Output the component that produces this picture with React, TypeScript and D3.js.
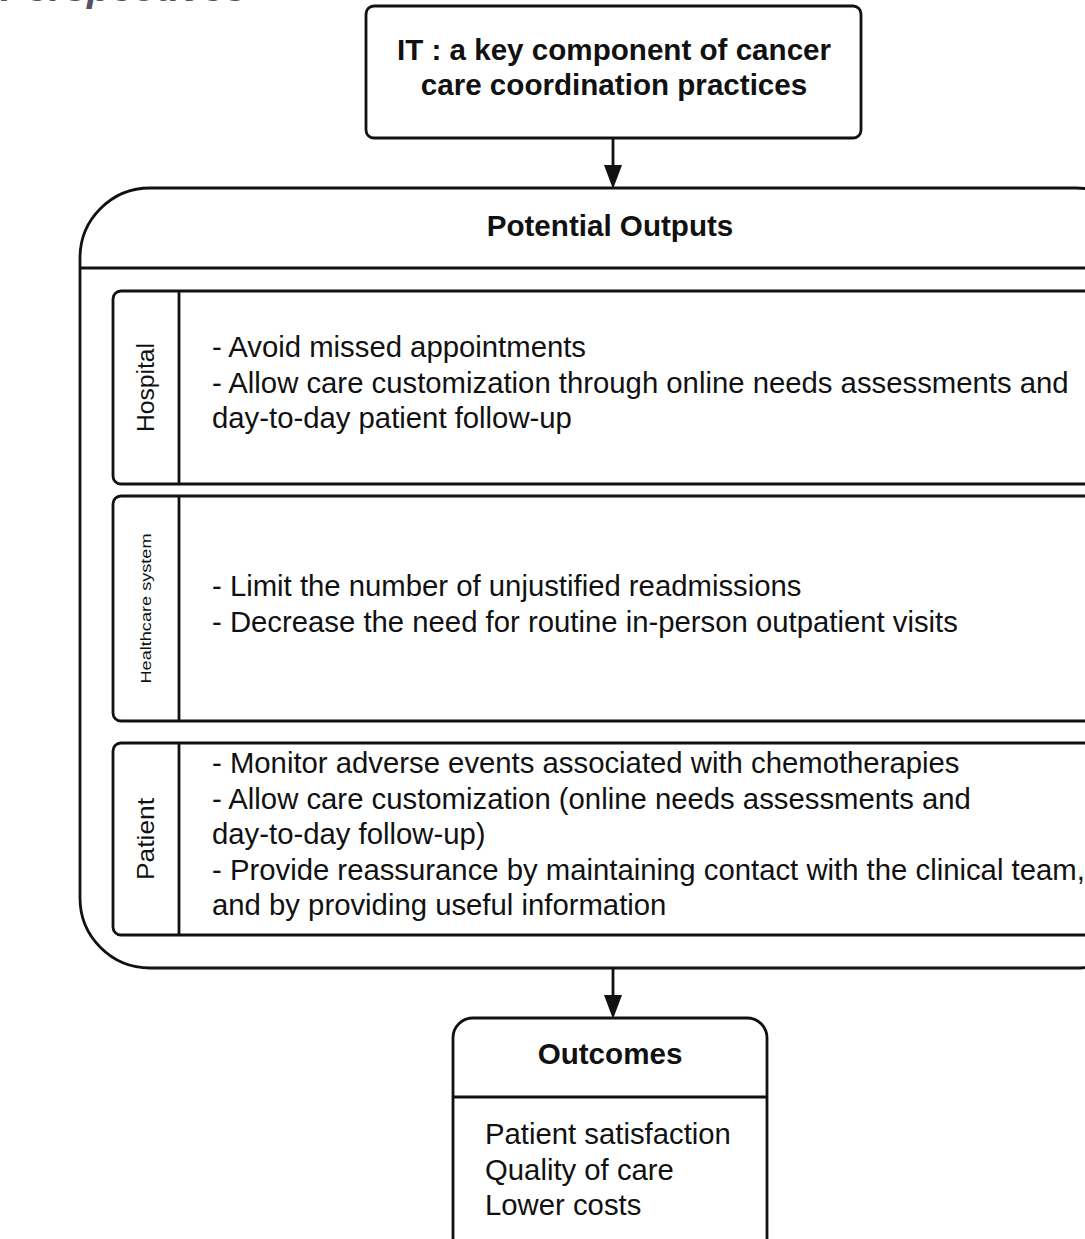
import React, { useEffect, useRef } from 'react';
import * as d3 from 'd3';

// text content of the diagram
const topTitle = ['IT : a key component of cancer', 'care coordination practices'];
const containerTitle = 'Potential Outputs';
const rowLabels = ['Hospital', 'Healthcare system', 'Patient'];
const hospitalItems = [
  '- Avoid missed appointments',
  '- Allow care customization through online needs assessments and',
  'day-to-day patient follow-up',
];
const systemItems = [
  '- Limit the number of unjustified readmissions',
  '- Decrease the need for routine in-person outpatient visits',
];
const patientItems = [
  '- Monitor adverse events associated with chemotherapies',
  '- Allow care customization (online needs assessments and',
  'day-to-day follow-up)',
  '- Provide reassurance by maintaining contact with the clinical team,',
  'and by providing useful information',
];
const outcomesTitle = 'Outcomes';
const outcomesItems = ['Patient satisfaction', 'Quality of care', 'Lower costs'];
const headerFragment = 'Perspectives';

const W = 1085;
const H = 1239;
const FONT = 'Liberation Sans, Arial, sans-serif';

const Diagram = () => {
  const ref = useRef<SVGSVGElement | null>(null);

  useEffect(() => {
    if (!ref.current) return;
    const svg = d3.select(ref.current);
    svg.selectAll('*').remove();

    const stroke = '#111';
    const sw = 2.8;
    const cx = 613;
    const bodySize = 29.3;
    const boldSize = 29.6;

    // heading cropped at the very top of the page
    svg.append('text')
      .attr('x', 247).attr('y', 1)
      .attr('text-anchor', 'end')
      .attr('font-family', FONT)
      .attr('font-style', 'italic')
      .attr('font-weight', 'bold')
      .attr('font-size', 40)
      .attr('fill', '#56506a')
      .text(headerFragment);

    const arrow = (y0: number, y1: number) => {
      svg.append('line')
        .attr('x1', cx).attr('x2', cx)
        .attr('y1', y0).attr('y2', y1 - 20)
        .attr('stroke', stroke).attr('stroke-width', sw);
      svg.append('path')
        .attr('d', d3.line()([[cx - 9, y1 - 24], [cx + 9, y1 - 24], [cx, y1]]) + 'Z')
        .attr('fill', stroke);
    };

    // top box
    svg.append('rect')
      .attr('x', 366).attr('y', 6).attr('width', 495).attr('height', 132)
      .attr('rx', 8)
      .attr('fill', '#fff').attr('stroke', stroke).attr('stroke-width', sw);
    svg.append('g').selectAll('text').data(topTitle).join('text')
      .attr('x', 614).attr('y', (_, i) => 50 + i * 35)
      .attr('dy', '0.35em')
      .attr('text-anchor', 'middle')
      .attr('font-family', FONT).attr('font-weight', 'bold').attr('font-size', boldSize)
      .attr('fill', stroke)
      .text(d => d);

    arrow(138, 189);

    // big container
    const cLeft = 80, cTop = 188, cBottom = 968;
    svg.append('rect')
      .attr('x', cLeft).attr('y', cTop)
      .attr('width', (cx - cLeft) * 2).attr('height', cBottom - cTop)
      .attr('rx', 70)
      .attr('fill', '#fff').attr('stroke', stroke).attr('stroke-width', sw);
    svg.append('line')
      .attr('x1', cLeft).attr('x2', (cx - cLeft) * 2 + cLeft)
      .attr('y1', 268).attr('y2', 268)
      .attr('stroke', stroke).attr('stroke-width', sw);
    svg.append('text')
      .attr('x', 610).attr('y', 226).attr('dy', '0.35em')
      .attr('text-anchor', 'middle')
      .attr('font-family', FONT).attr('font-weight', 'bold').attr('font-size', boldSize)
      .attr('fill', stroke)
      .text(containerTitle);

    // rows
    const rowBounds = [[291, 484], [496, 721], [743, 935]];
    const rowTexts = [hospitalItems, systemItems, patientItems];
    const labelSizes = [23.5, 14, 24];
    const labelLengths = [89, 150, 82];
    const rLeft = 113, divX = 179, textX = 212, lineH = 35.5;

    rowLabels.forEach((label, i) => {
      const [y0, y1] = rowBounds[i];
      const g = svg.append('g');
      g.append('rect')
        .attr('x', rLeft).attr('y', y0)
        .attr('width', (cx - rLeft) * 2).attr('height', y1 - y0)
        .attr('rx', 8)
        .attr('fill', '#fff').attr('stroke', stroke).attr('stroke-width', sw);
      g.append('line')
        .attr('x1', divX).attr('x2', divX).attr('y1', y0).attr('y2', y1)
        .attr('stroke', stroke).attr('stroke-width', sw);
      const my = (y0 + y1) / 2;
      g.append('text')
        .attr('transform', `translate(${(rLeft + divX) / 2},${my}) rotate(-90)`)
        .attr('dy', '0.35em')
        .attr('text-anchor', 'middle')
        .attr('font-family', FONT).attr('font-size', labelSizes[i])
        .attr('textLength', labelLengths[i])
        .attr('lengthAdjust', 'spacingAndGlyphs')
        .attr('fill', stroke)
        .text(label);
      const lines = rowTexts[i];
      const startY = my - 5 - ((lines.length - 1) * lineH) / 2;
      g.selectAll('text.item').data(lines).join('text')
        .attr('class', 'item')
        .attr('x', textX).attr('y', (_, j) => startY + j * lineH)
        .attr('dy', '0.35em')
        .attr('font-family', FONT).attr('font-size', bodySize)
        .attr('fill', stroke)
        .text(d => d);
    });

    arrow(968, 1019);

    // outcomes box
    svg.append('rect')
      .attr('x', 453).attr('y', 1018).attr('width', 314).attr('height', 270)
      .attr('rx', 20)
      .attr('fill', '#fff').attr('stroke', stroke).attr('stroke-width', sw);
    svg.append('line')
      .attr('x1', 453).attr('x2', 767).attr('y1', 1097).attr('y2', 1097)
      .attr('stroke', stroke).attr('stroke-width', sw);
    svg.append('text')
      .attr('x', 610).attr('y', 1054).attr('dy', '0.35em')
      .attr('text-anchor', 'middle')
      .attr('font-family', FONT).attr('font-weight', 'bold').attr('font-size', boldSize)
      .attr('fill', stroke)
      .text(outcomesTitle);
    svg.append('g').selectAll('text').data(outcomesItems).join('text')
      .attr('x', 485).attr('y', (_, i) => 1134 + i * 35.5)
      .attr('dy', '0.35em')
      .attr('font-family', FONT).attr('font-size', bodySize)
      .attr('fill', stroke)
      .text(d => d);
  }, []);

  return (
    <svg
      ref={ref}
      width={W}
      height={H}
      style={{ position: 'absolute', left: 0, top: 0, background: '#fff' }}
    />
  );
};

export default function App() {
  return <Diagram />;
}
